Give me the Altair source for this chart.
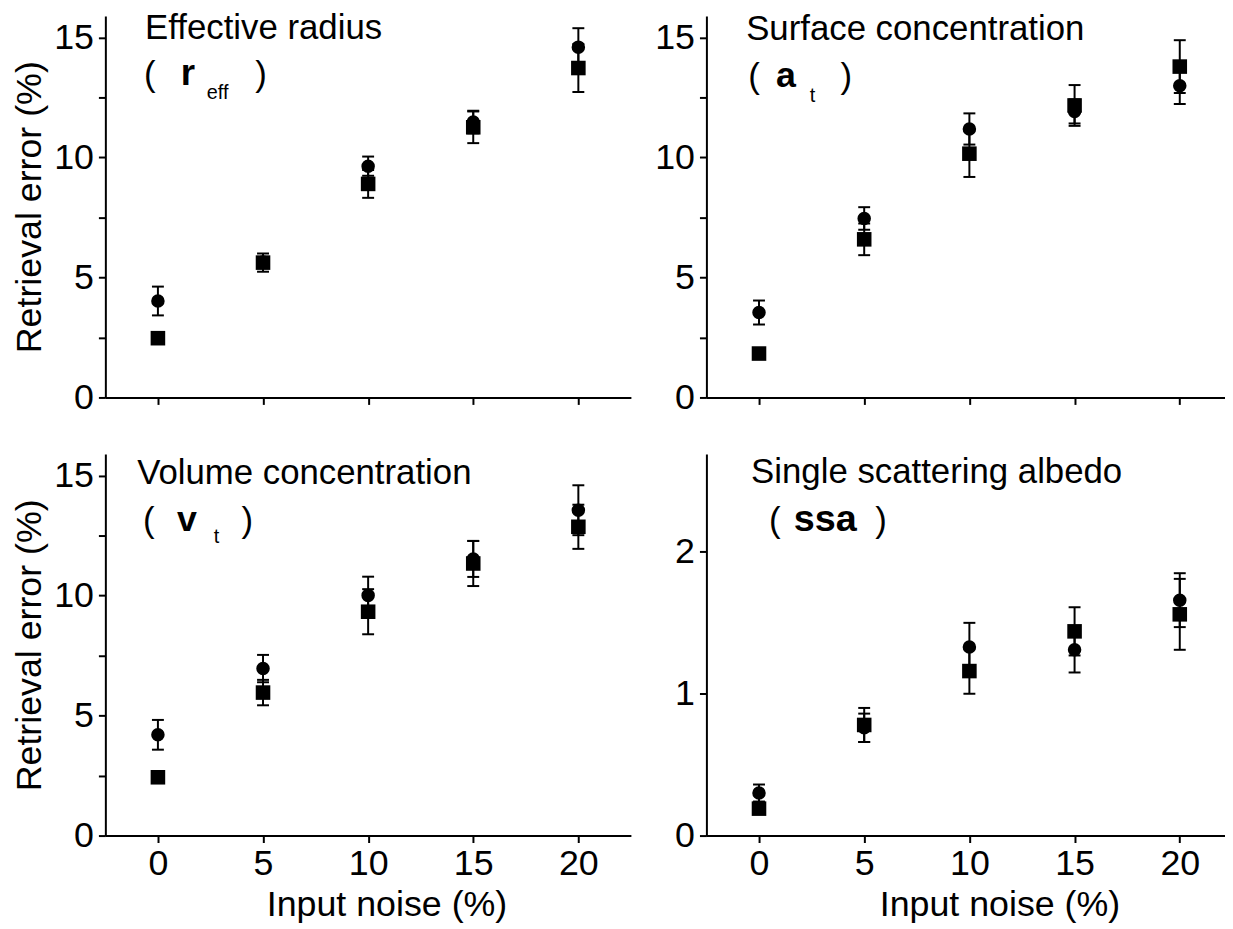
import altair as alt
import pandas as pd

# ---------------- data ----------------
noise = [0, 5, 10, 15, 20]

reff_circle = [4.02, 5.65, 9.64, 11.48, 14.60]
reff_circle_err = [0.60, 0.20, 0.40, 0.47, 0.79]
reff_square = [2.47, 5.62, 8.90, 11.26, 13.73]
reff_square_err = [0.20, 0.38, 0.58, 0.66, 1.00]

at_circle = [3.54, 7.46, 11.19, 11.92, 12.99]
at_circle_err = [0.50, 0.47, 0.65, 0.50, 0.76]
at_square = [1.83, 6.59, 10.16, 12.17, 13.79]
at_square_err = [0.15, 0.66, 0.97, 0.85, 1.10]

vt_circle = [4.20, 6.96, 10.01, 11.53, 13.56]
vt_circle_err = [0.62, 0.57, 0.78, 0.75, 1.04]
vt_square = [2.43, 5.96, 9.33, 11.34, 12.87]
vt_square_err = [0.15, 0.53, 0.94, 0.94, 0.92]

ssa_circle = [0.30, 0.76, 1.33, 1.31, 1.66]
ssa_circle_err = [0.06, 0.10, 0.17, 0.16, 0.19]
ssa_square = [0.19, 0.78, 1.16, 1.44, 1.56]
ssa_square_err = [0.03, 0.12, 0.16, 0.17, 0.25]

x_title = "Input noise (%)"
y_title = "Retrieval error (%)"

FONT = "Liberation Sans"
H = 384


def panel(circ, circ_err, sq, sq_err, ydom, yvals, ymajor, width, xdom,
          show_x, show_ytitle, texts, title_x):
    df = pd.DataFrame({
        "noise": noise * 2,
        "value": circ + sq,
        "err": circ_err + sq_err,
        "series": ["circle"] * len(noise) + ["square"] * len(noise),
    })
    df["lo"] = df["value"] - df["err"]
    df["hi"] = df["value"] + df["err"]

    xkw = dict(values=noise, format="d", labels=show_x, grid=False,
               tickSize=7, labelPadding=4, labelFontSize=36)
    if show_x:
        xkw.update(title=x_title, titleFontSize=36, titlePadding=6,
                   titleFontWeight="normal", titleX=title_x)
    else:
        xkw.update(title=None)
    ykw = dict(values=yvals, format="d", grid=False, tickSize=7,
               labelPadding=5, labelFontSize=36,
               labelExpr="datum.value % " + str(ymajor) + " === 0 ? datum.label : ''")
    if show_ytitle:
        ykw.update(title=y_title, titleFontSize=36, titlePadding=5,
                   titleFontWeight="normal")
    else:
        ykw.update(title=None)

    xs = alt.Scale(domain=xdom, nice=False, zero=False)
    ys = alt.Scale(domain=ydom, nice=False, zero=False)
    X = alt.X("noise:Q", scale=xs, axis=alt.Axis(**xkw))

    base = alt.Chart(df)
    rule = base.mark_rule(color="black", strokeWidth=2).encode(
        x=X, y=alt.Y("lo:Q", scale=ys, axis=alt.Axis(**ykw)), y2="hi:Q")
    cap_lo = base.mark_tick(orient="horizontal", size=12, thickness=2,
                            color="black", opacity=1).encode(
        x=X, y=alt.Y("lo:Q", scale=ys))
    cap_hi = base.mark_tick(orient="horizontal", size=12, thickness=2,
                            color="black", opacity=1).encode(
        x=X, y=alt.Y("hi:Q", scale=ys))
    circles = base.transform_filter(alt.datum.series == "circle").mark_point(
        shape="circle", filled=True, size=185, opacity=1, color="black").encode(
        x=X, y=alt.Y("value:Q", scale=ys))
    squares = base.transform_filter(alt.datum.series == "square").mark_point(
        shape="square", filled=True, size=215, opacity=1, color="black").encode(
        x=X, y=alt.Y("value:Q", scale=ys))

    layers = [rule, cap_lo, cap_hi, circles, squares]
    dummy = pd.DataFrame({"k": [0]})
    for t, px, py, fs, fw in texts:
        layers.append(
            alt.Chart(dummy).mark_text(align="left", baseline="alphabetic",
                                       font=FONT, fontSize=fs, fontWeight=fw,
                                       color="black").encode(
                x=alt.value(px), y=alt.value(py), text=alt.value(t)))
    return alt.layer(*layers).properties(width=width, height=H)


WL = 529
WR = 522
xdom_l = [-2.5, 22.5]
xdom_r = [-2.5, 22.15]
yv15 = [0, 2.5, 5, 7.5, 10, 12.5, 15]
yvssa = [0, 0.5, 1, 1.5, 2, 2.5]

tl = panel(reff_circle, reff_circle_err, reff_square, reff_square_err,
           [0, 15.9], yv15, 5, WL, xdom_l, False, True,
           [("Effective radius", 40, 23, 35, "normal"),
            ("(", 39, 71, 35, "normal"),
            ("r", 76, 69, 37, "bold"),
            ("eff", 102, 84, 20, "normal"),
            (")", 151, 71, 35, "normal")], 283)
tr = panel(at_circle, at_circle_err, at_square, at_square_err,
           [0, 15.9], yv15, 5, WR, xdom_r, False, False,
           [("Surface concentration", 40, 24, 35, "normal"),
            ("(", 42, 73, 35, "normal"),
            ("a", 70, 72, 36, "bold"),
            ("t", 104, 87, 20, "normal"),
            (")", 135, 73, 35, "normal")], 295)
bl = panel(vt_circle, vt_circle_err, vt_square, vt_square_err,
           [0, 15.9], yv15, 5, WL, xdom_l, True, True,
           [("Volume concentration", 32, 30, 35, "normal"),
            ("(", 38, 78, 35, "normal"),
            ("v", 72, 77, 36, "bold"),
            ("t", 109, 90, 20, "normal"),
            (")", 137, 78, 35, "normal")], 283)
br = panel(ssa_circle, ssa_circle_err, ssa_square, ssa_square_err,
           [0, 2.69], yvssa, 1, WR, xdom_r, True, False,
           [("Single scattering albedo", 45, 29, 35, "normal"),
            ("(", 63, 78, 35, "normal"),
            ("ssa", 88, 77, 38, "bold"),
            (")", 170, 78, 35, "normal")], 295)

chart = alt.concat(tl, tr, bl, br, columns=2,
                   spacing={"row": 57, "column": 76},
                   bounds="flush").properties(
    padding={"left": 3, "top": 0, "right": 0, "bottom": 0}
).configure_view(stroke=None).configure_axis(
    domainColor="black", domainWidth=2, tickColor="black", tickWidth=2,
    labelColor="black", titleColor="black", labelFont=FONT, titleFont=FONT,
)

chart.save("out.html", embed_options={"renderer": "svg", "actions": False})
